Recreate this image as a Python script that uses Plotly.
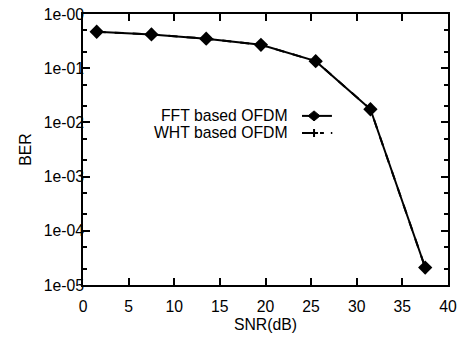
import plotly.graph_objects as go

snr_db = [1.5, 7.5, 13.5, 19.5, 25.5, 31.5, 37.5]
ber_fft = [0.47, 0.42, 0.35, 0.27, 0.135, 0.0175, 2.1e-5]
ber_wht = [0.47, 0.42, 0.35, 0.27, 0.135, 0.0175, 2.1e-5]

y_tickvals = [1, 1e-1, 1e-2, 1e-3, 1e-4, 1e-5]
y_ticktext = ["1e-00", "1e-01", "1e-02", "1e-03", "1e-04", "1e-05"]
x_tickvals = [0, 5, 10, 15, 20, 25, 30, 35, 40]

series_names = ["FFT based OFDM", "WHT based OFDM"]

FONT = "Liberation Sans, Arial, Helvetica, sans-serif"
FS = 15.75

fig = go.Figure()
fig.add_trace(go.Scatter(
    x=snr_db, y=ber_wht, name=series_names[1], mode="lines+markers",
    line=dict(color="black", width=2, dash="dash"),
    marker=dict(symbol="cross-thin", size=8, line=dict(color="black", width=2)),
    showlegend=False))
fig.add_trace(go.Scatter(
    x=snr_db, y=ber_fft, name=series_names[0], mode="lines+markers",
    line=dict(color="black", width=2),
    marker=dict(symbol="diamond", size=11, color="black"),
    showlegend=False))

# legend drawn manually (text on the left of the sample)
leg_y = [0.624, 0.561]
txt_x = 0.567
for name, yy in zip(series_names, leg_y):
    fig.add_annotation(x=txt_x, y=yy, xref="paper", yref="paper", text=name,
                       showarrow=False, xanchor="right", yanchor="middle",
                       font=dict(family=FONT, size=FS, color="black"))
fig.add_shape(type="line", xref="paper", yref="paper", x0=0.6, x1=0.682,
              y0=leg_y[0], y1=leg_y[0], line=dict(color="black", width=2))
fig.add_shape(type="path", xref="paper", yref="paper", xsizemode="pixel", ysizemode="pixel",
              xanchor=0.633, yanchor=leg_y[0], path="M-6,0 L0,5 L6,0 L0,-5 Z",
              fillcolor="black", line=dict(color="black", width=1))
fig.add_shape(type="line", xref="paper", yref="paper", x0=0.6, x1=0.66,
              y0=leg_y[1], y1=leg_y[1], line=dict(color="black", width=2, dash="dash"))
fig.add_shape(type="path", xref="paper", yref="paper", xsizemode="pixel", ysizemode="pixel",
              xanchor=0.633, yanchor=leg_y[1], path="M-4,0 L4,0 M0,-4 L0,4",
              line=dict(color="black", width=2))
fig.add_shape(type="line", xref="paper", yref="paper", x0=0.679, x1=0.683,
              y0=leg_y[1], y1=leg_y[1], line=dict(color="black", width=2))

fig.update_xaxes(
    range=[0, 40], tickvals=x_tickvals, ticks="inside", ticklen=7, tickwidth=1.5,
    tickcolor="black", showline=True, linecolor="black", linewidth=1.5, mirror="ticks",
    showgrid=False, zeroline=False, automargin=False, ticklabelstandoff=6,
    ticklabeloverflow="allow",
    tickfont=dict(family=FONT, size=FS, color="black"),
    title=dict(text="SNR(dB)", font=dict(family=FONT, size=FS, color="black"), standoff=5))
fig.update_yaxes(
    type="log", range=[-5, 0], tickvals=y_tickvals, ticktext=y_ticktext,
    ticks="inside", ticklen=7, tickwidth=1.5, tickcolor="black",
    showline=True, linecolor="black", linewidth=1.5, mirror="ticks",
    showgrid=False, zeroline=False, automargin=False, ticklabeloverflow="allow",
    ticklabelstandoff=-6,
    minor=dict(ticks="inside", ticklen=4, tickcolor="black", dtick="D2", showgrid=False),
    tickfont=dict(family=FONT, size=FS, color="black"),
    title=dict(text="BER", font=dict(family=FONT, size=FS, color="black"), standoff=8))

fig.update_layout(
    width=467, height=337,
    margin=dict(l=83, r=19, t=14, b=52),
    paper_bgcolor="white", plot_bgcolor="white",
    showlegend=False)

# remove the default 8px page margin so the figure fills the window exactly
fig.write_html("out.html", config={"displayModeBar": False},
               post_script="document.body.style.margin='0';")
